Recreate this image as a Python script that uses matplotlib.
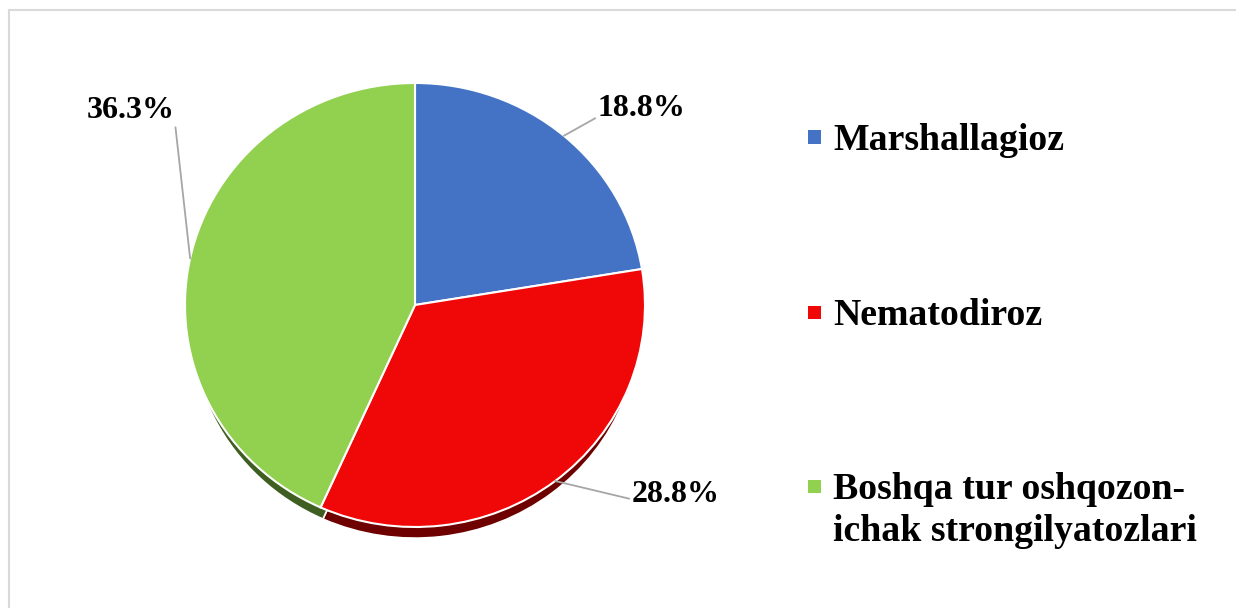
import numpy as np
import matplotlib
matplotlib.use("Agg")
import matplotlib.pyplot as plt
from matplotlib.patches import Rectangle

plt.rcParams['font.family'] = ['Liberation Serif', 'DejaVu Serif']

# data
categories = ["Marshallagioz", "Nematodiroz", "Boshqa tur oshqozon-\nichak strongilyatozlari"]
values = [18.8, 28.8, 36.3]
labels = ["18.8%", "28.8%", "36.3%"]
colors = ["#4472C4", "#F00808", "#92D050"]
shadow_colors = ["#203864", "#6E0000", "#3F5E22"]

W, H = 1236, 608
fig = plt.figure(figsize=(W / 100, H / 100), dpi=100)


def fx(px):
    return px / W


def fy(py):
    return 1 - py / H


# light grey frame around the chart area
fig.add_artist(Rectangle((fx(9), fy(620)), fx(1250) - fx(9), fy(10) - fy(620),
                         transform=fig.transFigure, fill=False,
                         edgecolor="#D9D9D9", linewidth=1.5))

# pie axes: slightly squashed ellipse, centre ~ (415, 305) px
cx, cy, rx, ry = 415, 305, 230, 222
ax = fig.add_axes([fx(cx - rx), fy(cy + ry), 2 * rx / W, 2 * ry / H])

# 3d-ish depth: darker, slightly smaller copy shifted down
ax.pie(values, colors=shadow_colors, startangle=90, counterclock=False,
       center=(0, -0.075), radius=0.975,
       wedgeprops=dict(edgecolor="white", linewidth=1.2))
wedges, _ = ax.pie(values, colors=colors, startangle=90, counterclock=False,
                   radius=1, wedgeprops=dict(edgecolor="white", linewidth=1.5))
for w in ax.patches:
    w.set_clip_on(False)
ax.set_aspect('auto')
ax.set_xlim(-1, 1)
ax.set_ylim(-1, 1)
ax.axis('off')


def to_data(px, py):
    return (px - cx) / rx, (cy - py) / ry


# label positions (pixels) and alignment
label_pos = [(598, 108), (632, 495), (175, 110)]
label_ha = ["left", "left", "right"]
label_rel = [(0.0, 0.2), (0.0, 0.35), (1.0, 0.05)]

for w, lab, pos, ha, rel in zip(wedges, labels, label_pos, label_ha, label_rel):
    mid = np.deg2rad((w.theta1 + w.theta2) / 2)
    ex, ey = np.cos(mid), np.sin(mid)
    ax.annotate(lab, xy=(ex, ey), xytext=to_data(*pos),
                ha=ha, va="center", fontsize=23, fontweight="bold",
                annotation_clip=False,
                arrowprops=dict(arrowstyle="-", color="#A6A6A6", lw=1.3,
                                shrinkA=0, shrinkB=0, relpos=rel))

# legend drawn by hand (marker aligned with first line)
leg_y = [137, 312, 486]
line_step = 42
for cat, col, y in zip(categories, colors, leg_y):
    fig.add_artist(Rectangle((fx(808), fy(y + 6.5)), 13 / W, 13 / H,
                             transform=fig.transFigure, facecolor=col,
                             edgecolor="none"))
    for i, line in enumerate(cat.split("\n")):
        fig.text(fx(833), fy(y + 13 + i * line_step), line, ha="left",
                 va="baseline", fontsize=27.2, fontweight="bold")

fig.savefig("out.png", dpi=100)
